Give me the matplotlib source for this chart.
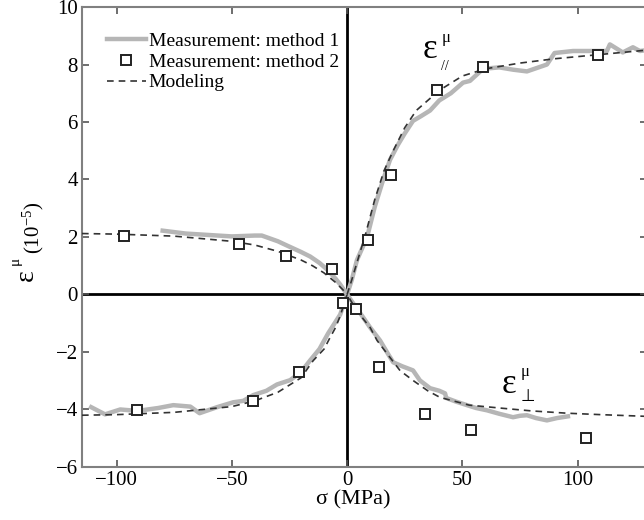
import matplotlib
matplotlib.use('Agg')
import matplotlib.pyplot as plt

plt.rcParams['font.family'] = ['Liberation Serif', 'DejaVu Serif']
plt.rcParams['mathtext.fontset'] = 'custom'
plt.rcParams['mathtext.rm'] = 'Liberation Serif'
plt.rcParams['mathtext.it'] = 'Liberation Serif'

# parallel strain, modelling
par_model_x = [-115, -100, -75, -50, -40, -30, -20, -15, -10, -5, -2, 0, 2, 5, 8, 12, 16,
               20, 25, 30, 40, 50, 60, 75, 90, 110, 130]
par_model_y = [2.12, 2.1, 2.03, 1.85, 1.72, 1.5, 1.2, 1.0, 0.75, 0.42, 0.18, 0.0, 0.5, 1.3,
               2.1, 3.3, 4.3, 5.0, 5.8, 6.4, 7.1, 7.6, 7.85, 8.05, 8.2, 8.35, 8.5]

# parallel strain, measurement method 1
par_meas_x = [-80, -70, -60, -50, -40, -37, -30, -26, -20, -16, -12, -8.7, -5, -3, 0,
              2, 4.3, 8.7, 12, 15.6, 18.6, 22, 25, 28.6, 32, 36, 40, 45, 50.3, 53.3, 59, 66,
              72, 78, 86.7, 90, 98, 105, 112.7, 114, 119.6, 124, 127, 130]
par_meas_y = [2.22, 2.12, 2.07, 2.02, 2.05, 2.05, 1.85, 1.7, 1.48, 1.32, 1.1, 0.87, 0.55, 0.35, 0.0,
              0.5, 1.2, 2.0, 3.05, 3.98, 4.68, 5.2, 5.6, 6.04, 6.2, 6.4, 6.75, 7.0, 7.37, 7.43, 7.85, 7.9,
              7.82, 7.76, 8.0, 8.4, 8.47, 8.47, 8.47, 8.7, 8.42, 8.6, 8.47, 8.5]

# perpendicular strain, modelling
perp_model_x = [-115, -100, -75, -50, -40, -30, -20, -14.7, -10, -7.4, -5, -3, 0, 3, 7, 10, 13,
                18.6, 23, 28.6, 35, 40.3, 53, 67.6, 80, 95.4, 110, 130]
perp_model_y = [-4.2, -4.18, -4.1, -3.9, -3.7, -3.4, -2.9, -2.3, -1.9, -1.5, -1.15, -0.75, 0.0,
                -0.4, -0.85, -1.15, -1.6, -2.19, -2.65, -2.99, -3.35, -3.58, -3.85, -3.96, -4.05,
                -4.13, -4.18, -4.24]

# perpendicular strain, measurement method 1
perp_meas_x = [-111, -105, -98.4, -91, -82, -75.4, -68, -64, -56.4, -49.4, -45, -40.7, -35,
               -30.4, -24.7, -20, -16, -12, -8.2, -5, -3, 0, 3, 7, 10, 14.3, 18, 20, 24, 28.6,
               31.6, 36, 40, 42.5, 43, 47, 52, 56, 60.7, 66, 72, 75, 78, 82, 86.7, 91, 95.8]
perp_meas_y = [-3.92, -4.17, -4.0, -4.05, -3.95, -3.85, -3.9, -4.13, -3.92, -3.75, -3.7, -3.5, -3.35,
               -3.13, -2.98, -2.7, -2.29, -1.9, -1.35, -0.95, -0.7, 0.0, -0.35, -0.8, -1.15, -1.6,
               -2.1, -2.36, -2.5, -2.64, -2.99, -3.26, -3.35, -3.44, -3.6, -3.72, -3.85, -3.95,
               -4.03, -4.15, -4.27, -4.22, -4.2, -4.3, -4.38, -4.3, -4.24]

# measurement method 2 (squares)
sq_x = [-96.6, -46.8, -26.4, -6.5, -1.7, 3.9, 9.1, 19.1, 39, 58.9, 108.8,
        -91, -40.7, -20.8, 13.9, 33.8, 53.7, 103.6]
sq_y = [2.05, 1.77, 1.35, 0.9, -0.28, -0.52, 1.91, 4.17, 7.12, 7.92, 8.33,
        -4.03, -3.72, -2.7, -2.53, -4.17, -4.72, -5.0]

W, H = 644, 520
fig = plt.figure(figsize=(W / 100, H / 100), dpi=100)
ax = fig.add_axes([0.1273, 0.102, 0.877, 0.8845])

grey = '#b6b6b6'
ax.axhline(0, color='black', lw=2.0, zorder=1)
ax.axvline(0, color='black', lw=2.0, zorder=1)

ax.plot(par_meas_x, par_meas_y, color=grey, lw=3.2, zorder=2, label='Measurement: method 1')
ax.plot(perp_meas_x, perp_meas_y, color=grey, lw=3.2, zorder=2)
ax.plot(sq_x, sq_y, 's', ms=6.5, mfc='white', mec='#222222', mew=1.4, zorder=4,
        label='Measurement: method 2')
ax.plot(par_model_x, par_model_y, '--', color='#333333', lw=1.2, dashes=(4, 3), zorder=3,
        label='Modeling')
ax.plot(perp_model_x, perp_model_y, '--', color='#333333', lw=1.2, dashes=(4, 3), zorder=3)

# curve labels: big epsilon with small super/subscripts
ax.text(32.6, 8.23, 'ε', fontsize=25, ha='left', va='baseline')
ax.text(40.8, 8.8, 'μ', fontsize=12, ha='left', va='baseline')
ax.text(40.8, 7.8, '//', fontsize=10, ha='left', va='baseline')
ax.text(67.0, -3.44, 'ε', fontsize=25, ha='left', va='baseline')
ax.text(75.2, -2.82, 'μ', fontsize=12, ha='left', va='baseline')
ax.text(75.4, -3.7, '⊥', fontsize=12, ha='left', va='baseline', family='DejaVu Sans')

ax.set_xlim(-115, 130)
ax.set_ylim(-6, 10)
ax.set_xticks([-100, -50, 0, 50, 100])
ax.set_yticks(range(-6, 11, 2))
ax.tick_params(direction='in', top=True, right=True, length=5, width=1.2,
               color='#555555', labelsize=15, pad=3)
for s in ax.spines.values():
    s.set_color('#808080')
    s.set_linewidth(1.5)

ax.set_xlabel('σ (MPa)', fontsize=16)
ax.xaxis.set_label_coords(0.48, -0.05)

# y label built from pieces, rotated
fig.text(33 / W, 1 - 281 / H, 'ε', fontsize=20, rotation=90, rotation_mode='anchor',
         ha='left', va='baseline')
fig.text(19 / W, 1 - 265 / H, 'μ', fontsize=11, rotation=90, rotation_mode='anchor',
         ha='left', va='baseline')
fig.text(39 / W, 1 - 254 / H, r'(10$^{-5}$)', fontsize=15, rotation=90,
         rotation_mode='anchor', ha='left', va='baseline')

ax.legend(loc='upper left', frameon=False, fontsize=14, handlelength=2.0,
          handletextpad=0.15, labelspacing=0.16, borderaxespad=0.0,
          bbox_to_anchor=(0.03, 0.962))

fig.savefig('out.png', dpi=100)
